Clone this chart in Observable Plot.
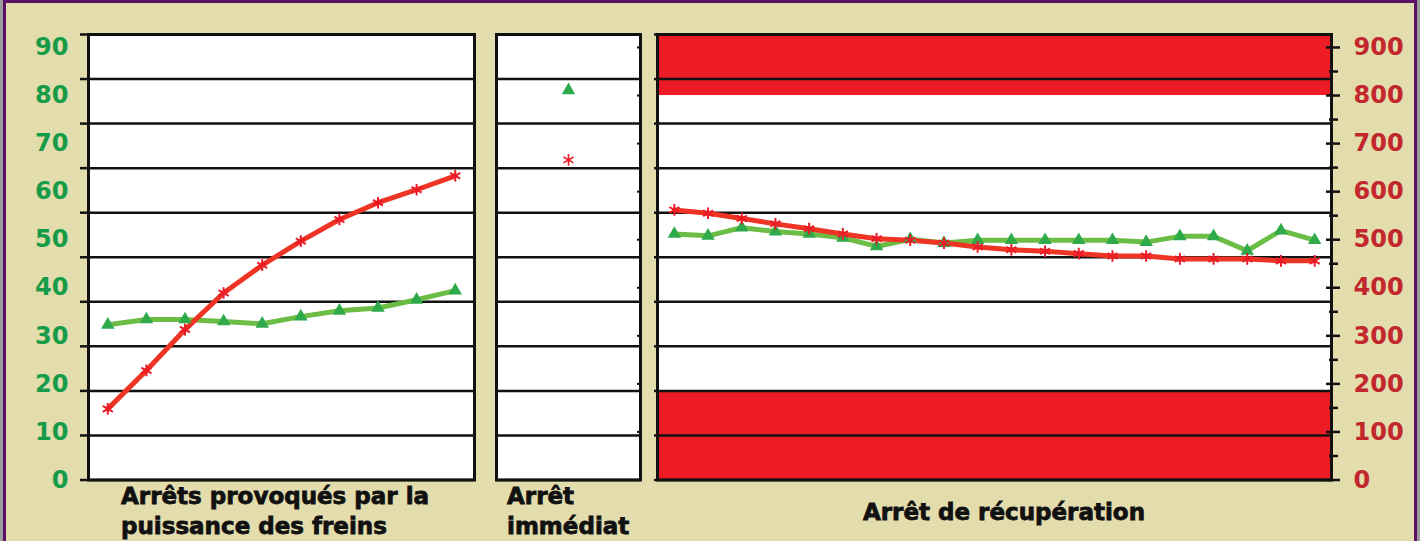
<!DOCTYPE html>
<html><head><meta charset="utf-8">
<script src="https://cdn.jsdelivr.net/npm/d3@7"></script>
<script src="https://cdn.jsdelivr.net/npm/@observablehq/plot@0.6"></script>
<style>
html,body{margin:0;padding:0;background:#9b9b9b;}
#wrap{position:relative;width:1420px;height:541px;overflow:hidden;background:#9b9b9b;font-family:"DejaVu Sans",sans-serif;}
#panel{position:absolute;left:3px;top:0;width:1414px;height:560px;box-sizing:border-box;border:3px solid #5a1064;border-bottom:none;background:#e3dcad;}
.plot{position:absolute;left:0;top:0;}
.lbl{position:absolute;font-weight:bold;font-size:23px;color:#111;line-height:30px;white-space:nowrap;-webkit-text-stroke:0.8px #111;}
</style></head>
<body><div id="wrap"><div id="panel"></div>
<div class="lbl" style="left:121px;top:481px;">Arrêts provoqués par la<br>puissance des freins</div>
<div class="lbl" style="left:507px;top:481px;">Arrêt<br>immédiat</div>
<div class="lbl" style="left:1004px;top:497px;transform:translateX(-50%);">Arrêt de récupération</div>
</div>
<script>
// ---- data ----
const leftSteps = [0, 1, 2, 3, 4, 5, 6, 7, 8, 9];
const leftRed   = [14.8, 22.8, 31.3, 38.9, 44.7, 49.7, 54.2, 57.7, 60.4, 63.3];
const leftGreen = [32.3, 33.4, 33.4, 33.0, 32.5, 34.0, 35.2, 35.8, 37.5, 39.4];
const midRed = [66.6];
const midGreen = [81.1];
const rightSteps = [0,1,2,3,4,5,6,7,8,9,10,11,12,13,14,15,16,17,18,19];
const rightRed   = [562, 555, 544, 533, 523, 512, 502, 499, 493, 485, 479, 476, 471, 466, 466, 460, 460, 460, 456, 456];
const rightGreen = [512, 508, 525, 517, 512, 504, 486, 501, 493, 499, 499, 499, 499, 499, 495, 507, 507, 477, 519, 499];
const leftTicks = [0, 10, 20, 30, 40, 50, 60, 70, 80, 90];
const rightTicks = [0, 100, 200, 300, 400, 500, 600, 700, 800, 900];
const rightMinor = [50, 150, 250, 350, 450, 550, 650, 750, 850];
const leftMax = 92.7;
const rightMax = 927;
const gridLeft = d3.range(11).map(k => k * leftMax / 10);
const gridRight = d3.range(11).map(k => k * rightMax / 10);
const bands = [{y1: 0, y2: gridRight[2]}, {y1: 800, y2: rightMax}];

// ---- styles ----
const RED_LINE = "#ee3424", GREEN_LINE = "#6cbd45", GREEN_DOT = "#2eaa4a", RED_DOT = "#ec1c26";
const INK = "#111";
const GREEN_TXT = "#169b48", RED_TXT = "#c1272d";
const common = {
  width: 1420, height: 541, marginTop: 34, marginBottom: 61.5,
  style: {background: "transparent", fontFamily: "DejaVu Sans", overflow: "visible"}
};
const wrap = document.getElementById("wrap");
function add(svg) { svg.classList.add("plot"); wrap.appendChild(svg); }

const L = leftSteps.map((i, k) => ({i, red: leftRed[k], green: leftGreen[k]}));
const R = rightSteps.map((i, k) => ({i, red: rightRed[k], green: rightGreen[k]}));

// Left panel
add(Plot.plot({
  ...common, marginLeft: 88, marginRight: 946,
  x: {domain: [-0.5, 9.5], axis: null},
  y: {domain: [0, leftMax]},
  marks: [
    Plot.frame({fill: "white"}),
    Plot.ruleY(gridLeft, {stroke: INK, strokeWidth: 2.5}),
    Plot.axisY({anchor: "left", ticks: gridLeft, tickSize: 8, tickFormat: () => "", stroke: INK, strokeWidth: 2.5}),
    Plot.axisY({anchor: "left", ticks: leftTicks, tickSize: 0, tickPadding: 20, tickFormat: d => String(d),
      fill: GREEN_TXT, stroke: GREEN_TXT, strokeWidth: 1.2, fontSize: 24, fontWeight: "bold"}),
    Plot.line(L, {x: "i", y: "green", stroke: GREEN_LINE, strokeWidth: 5}),
    Plot.line(L, {x: "i", y: "red", stroke: RED_LINE, strokeWidth: 5}),
    Plot.dot(L, {x: "i", y: "green", symbol: "triangle", r: 5, fill: GREEN_DOT}),
    Plot.dot(L, {x: "i", y: "red", symbol: "asterisk", r: 5.5, stroke: RED_DOT, strokeWidth: 2}),
    Plot.frame({stroke: INK, strokeWidth: 3})
  ]
}));

// Middle panel
add(Plot.plot({
  ...common, marginLeft: 496, marginRight: 780,
  y: {domain: [0, leftMax]},
  marks: [
    Plot.frame({fill: "white"}),
    Plot.ruleY(gridLeft, {stroke: INK, strokeWidth: 2.5}),
    Plot.axisY({anchor: "right", ticks: leftTicks, tickSize: 4, dx: -4, tickFormat: () => "", stroke: INK, strokeWidth: 2}),
    Plot.dot(midGreen, {y: d => d, symbol: "triangle", r: 5, fill: GREEN_DOT}),
    Plot.dot(midRed, {y: d => d, symbol: "asterisk", r: 5.5, stroke: RED_DOT, strokeWidth: 1.6}),
    Plot.frame({stroke: INK, strokeWidth: 3})
  ]
}));

// Right panel
add(Plot.plot({
  ...common, marginLeft: 657, marginRight: 89,
  x: {domain: [-0.5, 19.5], axis: null},
  y: {domain: [0, rightMax]},
  marks: [
    Plot.frame({fill: "white"}),
    Plot.rect(bands, {y1: "y1", y2: "y2", fill: "#ed1c24"}),
    Plot.ruleY(gridRight, {stroke: INK, strokeWidth: 2.5}),
    Plot.axisY({anchor: "left", ticks: gridRight, tickSize: 3, tickFormat: () => "", stroke: INK, strokeWidth: 2.5}),
    Plot.axisY({anchor: "right", ticks: rightTicks, tickSize: 14, dx: -6, tickFormat: () => "", stroke: INK, strokeWidth: 2.5}),
    Plot.axisY({anchor: "right", ticks: rightMinor, tickSize: 9, dx: -3, tickFormat: () => "", stroke: INK, strokeWidth: 2.5}),
    Plot.axisY({anchor: "right", ticks: rightTicks, tickSize: 0, tickPadding: 22, tickFormat: d => String(d),
      fill: RED_TXT, stroke: RED_TXT, strokeWidth: 1.2, fontSize: 24, fontWeight: "bold"}),
    Plot.line(R, {x: "i", y: "green", stroke: GREEN_LINE, strokeWidth: 5}),
    Plot.line(R, {x: "i", y: "red", stroke: RED_LINE, strokeWidth: 5}),
    Plot.dot(R, {x: "i", y: "green", symbol: "triangle", r: 5, fill: GREEN_DOT}),
    Plot.dot(R, {x: "i", y: "red", symbol: "asterisk", r: 5.5, stroke: RED_DOT, strokeWidth: 2}),
    Plot.frame({stroke: INK, strokeWidth: 3})
  ]
}));
</script>
</body></html>
